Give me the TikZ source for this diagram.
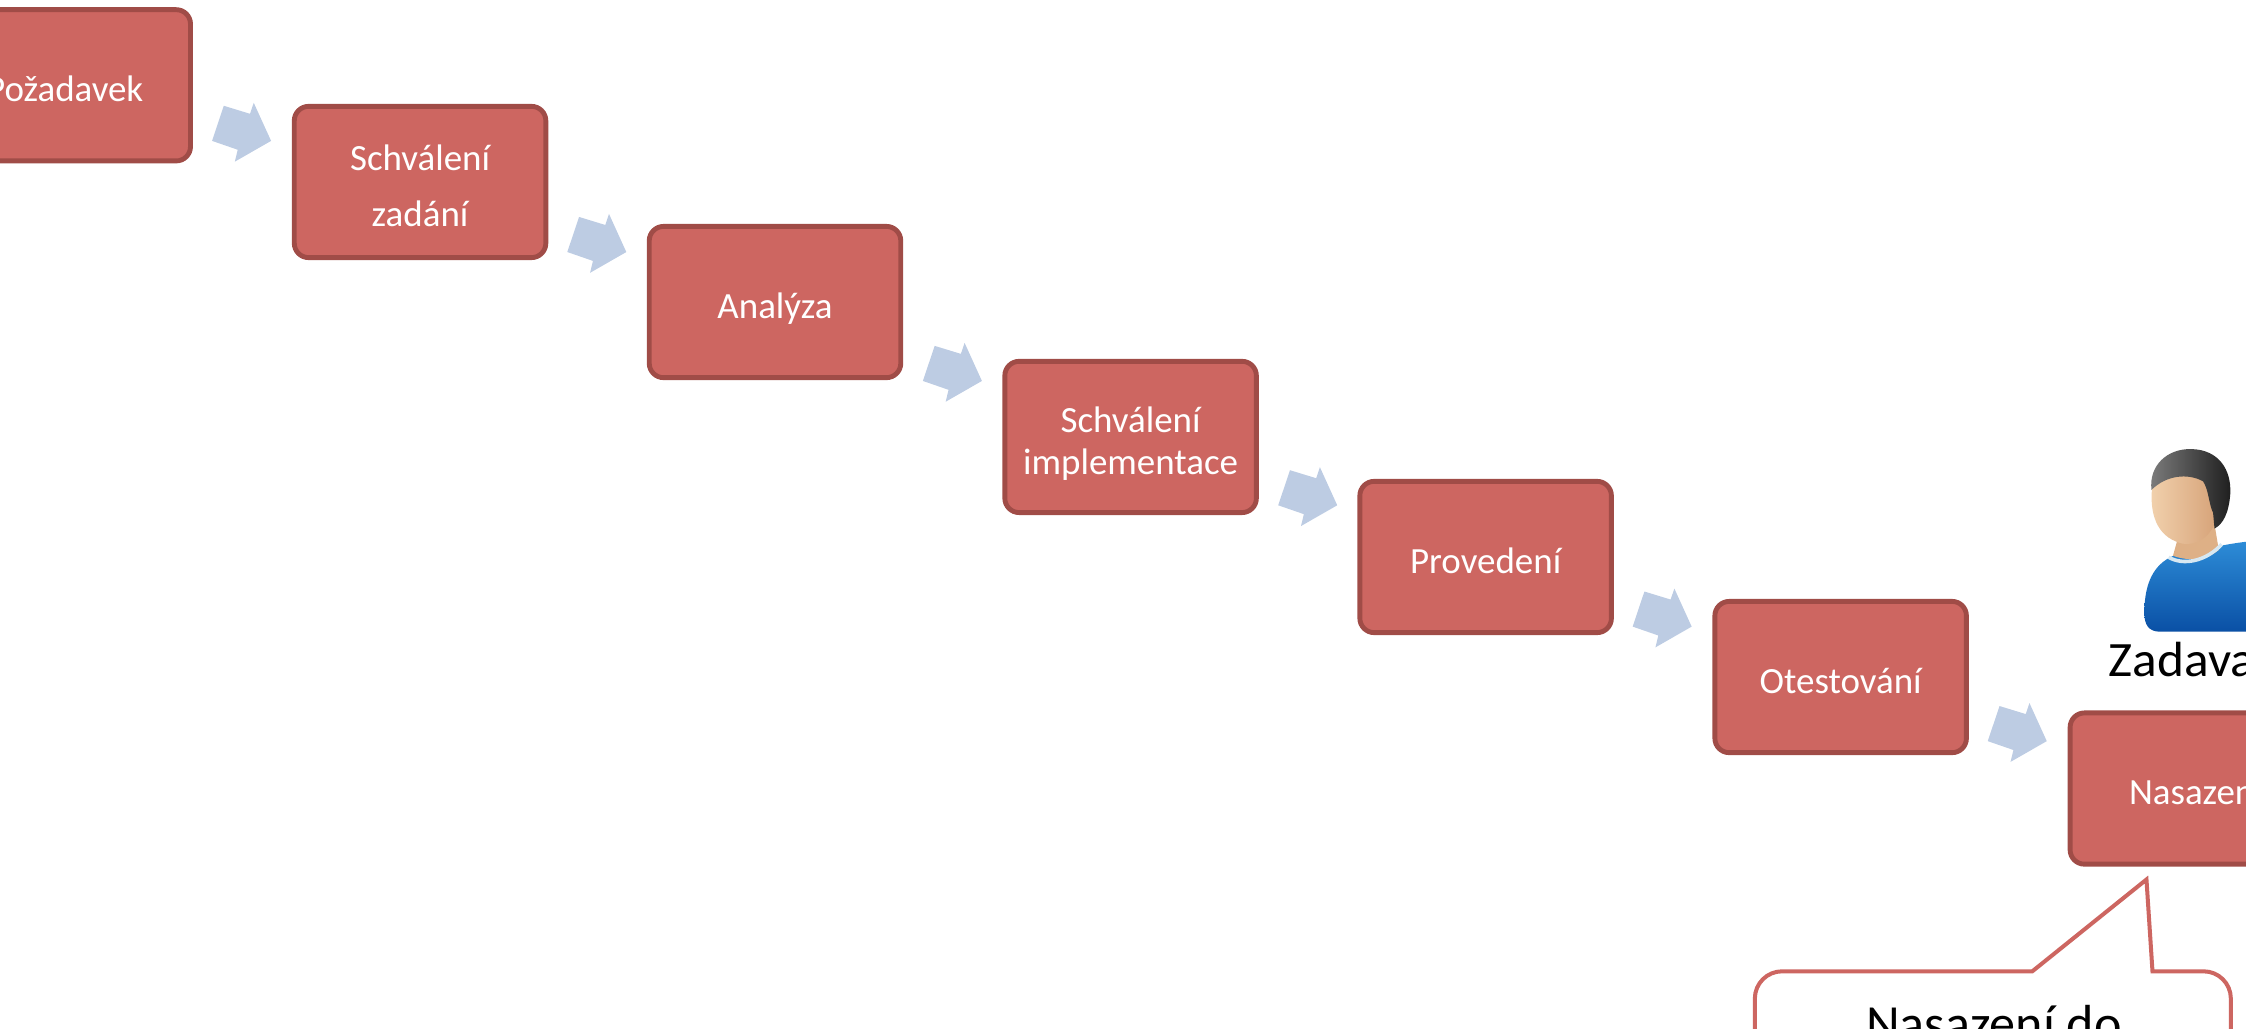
\documentclass[tikz,border=0pt]{standalone}
\usepackage{fontspec}
\setmainfont{Carlito}
\usetikzlibrary{calc}
\definecolor{boxfill}{RGB}{205,102,97}
\definecolor{boxline}{RGB}{160,76,71}
\definecolor{arrowfill}{RGB}{189,204,227}
\definecolor{skinL}{RGB}{242,210,174}
\definecolor{skinR}{RGB}{214,162,120}
\definecolor{neckc}{RGB}{222,176,134}
\definecolor{hairL}{RGB}{125,125,125}
\definecolor{hairD}{RGB}{30,30,30}
\definecolor{shirtT}{RGB}{45,140,215}
\definecolor{shirtB}{RGB}{10,80,165}
\definecolor{collarc}{RGB}{215,232,242}
\tikzset{
  stepbox/.style={draw=boxline, fill=boxfill, line width=3.4pt, rounded corners=10pt,
    minimum width=175.6pt, minimum height=105.6pt, inner sep=0pt},
  boxtext/.style={anchor=base, text=white, inner sep=0pt, font=\fontsize{25.8}{31}\selectfont},
  flowarrow/.style={fill=arrowfill},
  callout/.style={draw=boxfill, fill=white, line width=2.8pt, line join=miter},
}
\newcommand{\flowarrowat}[1]{\fill[flowarrow, shift={#1}] (-33,-24.5) -- (-14.7,-18.9) -- (-12.1,-26.6) -- (0,0) -- (-25.3,14.5) -- (-23.3,6.2) -- (-41.2,0) -- cycle;}
\begin{document}
\begin{tikzpicture}[x=1pt,y=-1pt]
\useasboundingbox (0,0) rectangle (1568,717.7);
\clip (0,0) rectangle (1568,717.7);
% boxes
\node[stepbox] (b1) at (45.2,59.55) {};
\node[stepbox] (b2) at (293.25,127.05) {};
\node[stepbox] (b3) at (541.05,210.85) {};
\node[stepbox] (b4) at (789.3,305.05) {};
\node[stepbox] (b5) at (1037.15,388.85) {};
\node[stepbox] (b6) at (1285,472.65) {};
\node[stepbox] (b7) at (1533,550.5) {};
% texts
\node[boxtext] (t1) at ($(b1.center)+(0,11.3)$) {Požadavek};
\node[boxtext] (t2a) at ($(b2.center)+(0,-8.35)$) {Schválení};
\node[boxtext] (t2b) at ($(b2.center)+(0,31.25)$) {zadání};
\node[boxtext] (t3) at ($(b3.center)+(0,11.3)$) {Analýza};
\node[boxtext] (t4a) at ($(b4.center)+(0,-3.25)$) {Schválení};
\node[boxtext] (t4b) at ($(b4.center)+(0,26.55)$) {implementace};
\node[boxtext] (t5) at ($(b5.center)+(0,11.3)$) {Provedení};
\node[boxtext] (t6) at ($(b6.center)+(0,11.3)$) {Otestování};
\node[boxtext] (t7) at ($(b7.center)+(0,11.3)$) {Nasazení};
% block arrows
\flowarrowat{($(b2.north west)+(-14.5,25.8)$)}
\flowarrowat{($(b3.north west)+(-14.3,19.6)$)}
\flowarrowat{($(b4.north west)+(-14.3,15.4)$)}
\flowarrowat{($(b5.north west)+(-14.1,18.4)$)}
\flowarrowat{($(b6.north west)+(-14.5,19.3)$)}
\flowarrowat{($(b7.north west)+(-14.6,21.4)$)}
% person
\shade[top color=shirtT, bottom color=shirtB] (1497,428) .. controls (1497,405) and (1505,392) .. (1520,387) -- (1535,384) .. controls (1550,381) and (1560,379) .. (1570,378) -- (1570,441) -- (1508,441) .. controls (1500,441) and (1497,436) .. (1497,428) -- cycle;
\fill[neckc] (1522,370) -- (1546,366) -- (1549,384) .. controls (1540,391) and (1528,392) .. (1517,388) -- cycle;
\draw[collarc, line width=2.5pt] (1514,389) .. controls (1524,395) and (1540,392) .. (1551,380);
\shade[left color=skinL, right color=skinR] (1503,336) .. controls (1500,355) and (1504,372) .. (1519,378) .. controls (1530,383) and (1541,377) .. (1546,366) -- (1548,340) .. controls (1540,328) and (1514,326) .. (1503,336) -- cycle;
\shade[left color=hairL, right color=hairD] (1502,342) .. controls (1500,325) and (1513,313) .. (1530,313.5) .. controls (1549,314) and (1558,328) .. (1557,345) .. controls (1556,358) and (1552,366) .. (1546,369) -- (1545,358) .. controls (1542,352) and (1542,342) .. (1538,336) .. controls (1527,330) and (1512,332) .. (1502,342) -- cycle;
\node[anchor=base west, inner sep=0pt, font=\fontsize{34.5}{40}\selectfont, xscale=1.04] (zad) at (1472,472.4) {Zadavatel};
% callout
\coordinate (ctip) at ($(b7.south west)+(55,9)$);
\draw[callout] (1225.1,740) -- (1225.1,697.1) .. controls (1225.1,686.6) and (1233.6,678.1) .. (1244.1,678.1) -- (1418.8,678.1) -- (ctip) -- (1502.7,678.1) -- (1538.4,678.1) .. controls (1548.9,678.1) and (1557.4,686.6) .. (1557.4,697.1) -- (1557.4,740);
\node[anchor=base, inner sep=0pt, font=\fontsize{36.4}{44}\selectfont] (ct) at (1392,727) {Nasazení do};
\end{tikzpicture}
\end{document}
